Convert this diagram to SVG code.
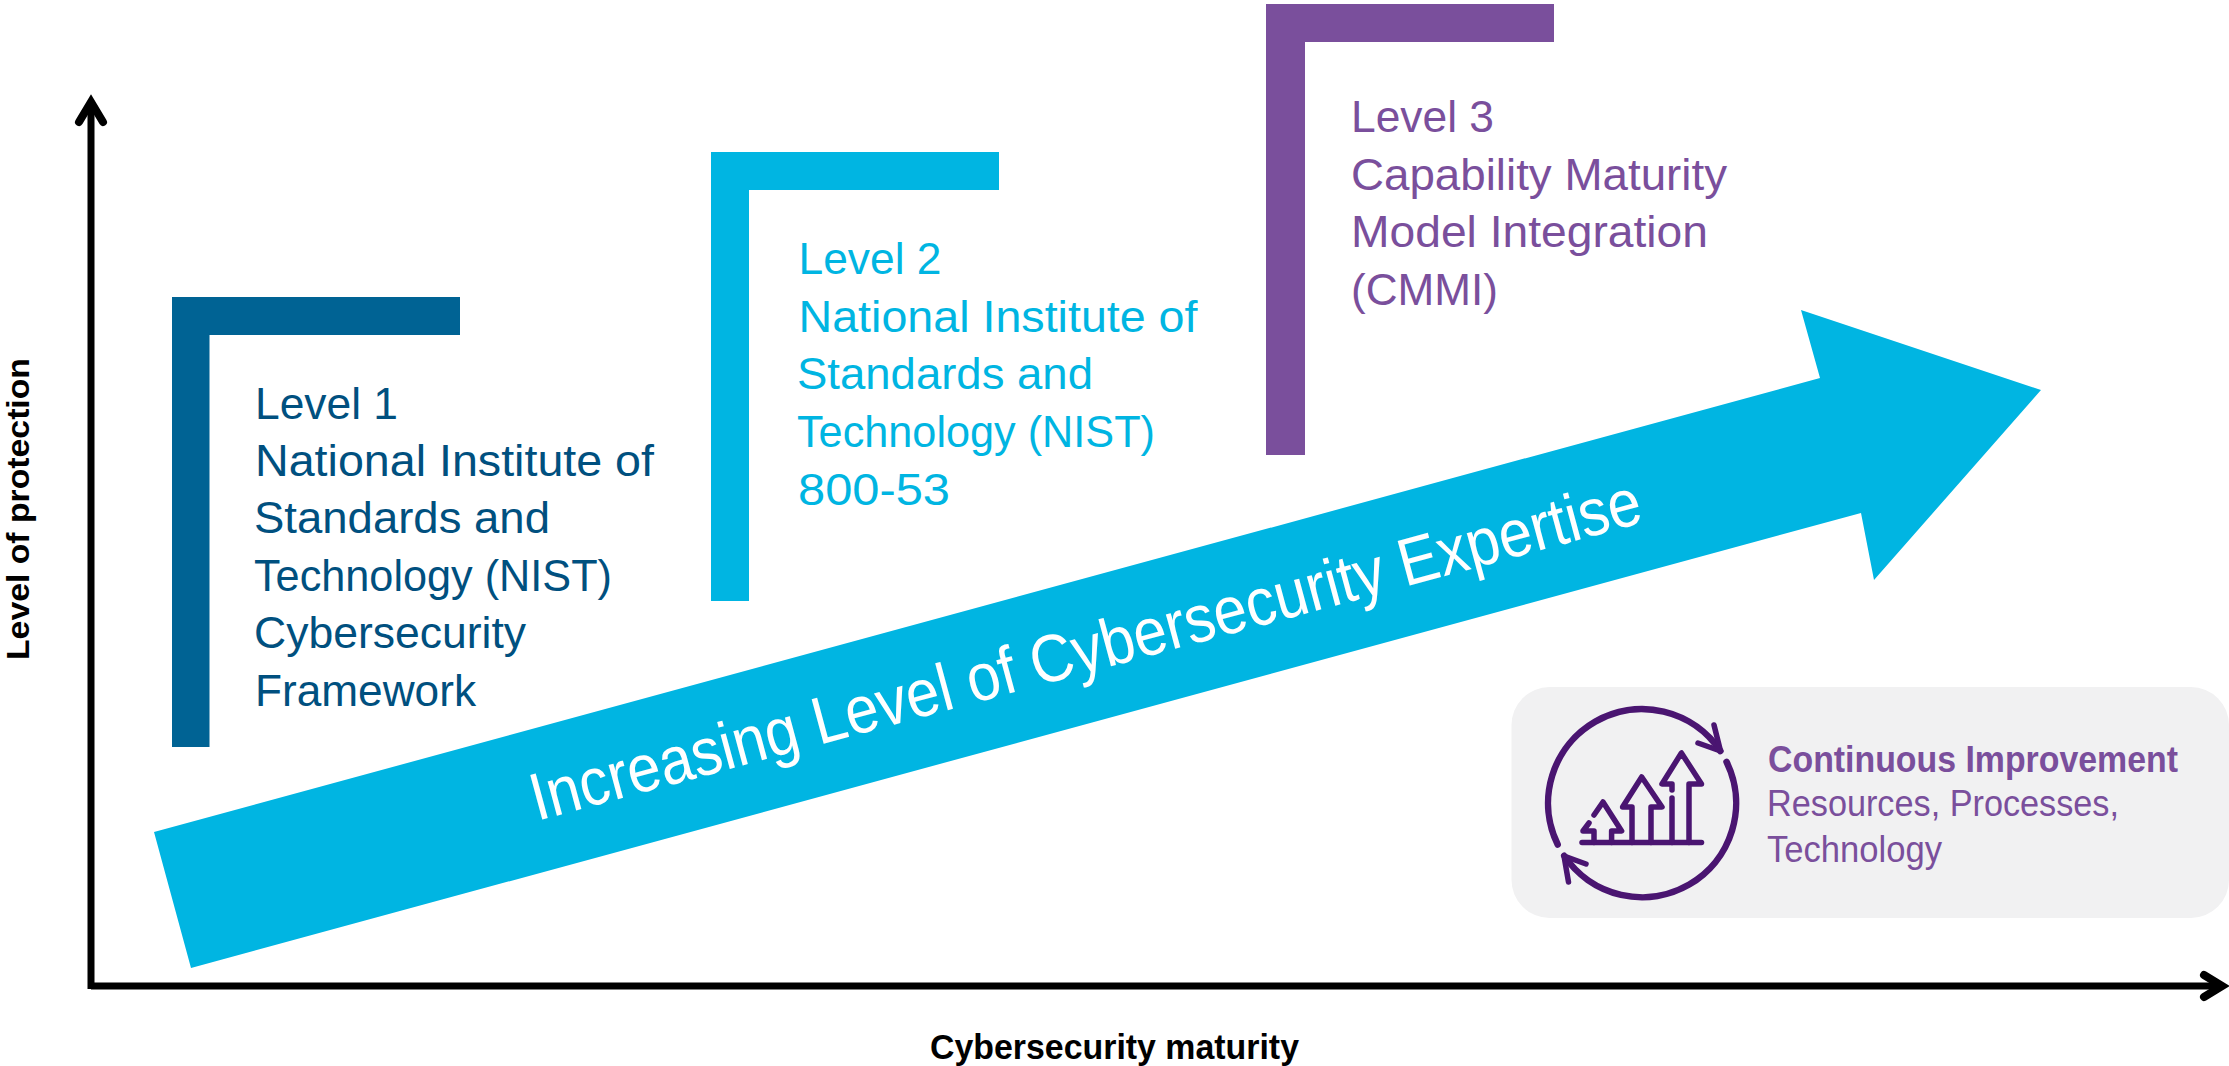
<svg xmlns="http://www.w3.org/2000/svg" width="2229" height="1066" viewBox="0 0 2229 1066">
<style>
text{font-family:"Liberation Sans",Arial,sans-serif}
.t{font-size:45px}
.l1{fill:#00507F}.l2{fill:#00B5E2}.l3{fill:#7A4F9C}
.axl{font-size:35px;font-weight:700;fill:#000}
.ax{fill:none;stroke:#000;stroke-width:7}
.ah{fill:none;stroke:#000;stroke-width:8;stroke-linecap:round;stroke-linejoin:miter}
.ic{fill:none;stroke:#4A1571;stroke-width:5.500;stroke-linecap:round;stroke-linejoin:round}
.ring{stroke-width:6.500}
</style>
<rect width="2229" height="1066" fill="#fff"/>
<g id="connectors">
<path class="ax" d="M91 989V104"/>
<path class="ax" d="M91 986H2222"/>
<path class="ah" d="M79 122L91 102L103 122"/>
<path class="ah" d="M2204 975L2222 986L2204 997"/>
</g>
<g id="axis-labels">
<text class="axl" style="font-size:31px" transform="translate(28.500 660) rotate(-90)" textLength="302" lengthAdjust="spacingAndGlyphs">Level of protection</text>
<text class="axl" x="930" y="1059" textLength="369" lengthAdjust="spacingAndGlyphs">Cybersecurity maturity</text>
</g>
<g id="main-arrow">
<polygon points="154,832 191,968 1861,513 1874,580 2041,390 1801,310 1820,378" fill="#00B5E2"/>
<text transform="translate(537 821) rotate(-15.100)" font-size="67" fill="#fff" textLength="1148" lengthAdjust="spacingAndGlyphs">Increasing Level of Cybersecurity Expertise</text>
</g>
<g id="level-1">
<path d="M172 297H460V335H209.500V747H172Z" fill="#006394"/>
<text class="t l1" x="255" y="419" textLength="143" lengthAdjust="spacingAndGlyphs">Level 1</text>
<text class="t l1" x="255" y="476" textLength="399" lengthAdjust="spacingAndGlyphs">National Institute of</text>
<text class="t l1" x="254" y="533" textLength="296" lengthAdjust="spacingAndGlyphs">Standards and</text>
<text class="t l1" x="254" y="591" textLength="358" lengthAdjust="spacingAndGlyphs">Technology (NIST)</text>
<text class="t l1" x="254" y="648" textLength="272" lengthAdjust="spacingAndGlyphs">Cybersecurity</text>
<text class="t l1" x="255" y="706" textLength="221" lengthAdjust="spacingAndGlyphs">Framework</text>
</g>
<g id="level-2">
<path d="M711 152H999V190H749V601H711Z" fill="#00B5E2"/>
<text class="t l2" x="798.500" y="274" textLength="143" lengthAdjust="spacingAndGlyphs">Level 2</text>
<text class="t l2" x="798.500" y="332" textLength="399" lengthAdjust="spacingAndGlyphs">National Institute of</text>
<text class="t l2" x="797" y="389" textLength="296" lengthAdjust="spacingAndGlyphs">Standards and</text>
<text class="t l2" x="797" y="447" textLength="358" lengthAdjust="spacingAndGlyphs">Technology (NIST)</text>
<text class="t l2" x="798" y="504.500" textLength="152" lengthAdjust="spacingAndGlyphs">800-53</text>
</g>
<g id="level-3">
<path d="M1266 4H1554V42H1305V455H1266Z" fill="#7A4F9C"/>
<text class="t l3" x="1351" y="132" textLength="143" lengthAdjust="spacingAndGlyphs">Level 3</text>
<text class="t l3" x="1351" y="189.500" textLength="376" lengthAdjust="spacingAndGlyphs">Capability Maturity</text>
<text class="t l3" x="1351" y="247" textLength="357" lengthAdjust="spacingAndGlyphs">Model Integration</text>
<text class="t l3" x="1351" y="304.500" textLength="147" lengthAdjust="spacingAndGlyphs">(CMMI)</text>
</g>
<g id="continuous-improvement">
<rect x="1511.500" y="687" width="717.500" height="231" rx="38" fill="#F1F1F2"/>
<g id="icon">
<path class="ic ring" d="M1557.700 844.500A94 94 0 0 1 1720.400 751.100"/>
<path class="ic ring" d="M1726.500 761.800A94 94 0 0 1 1564.200 855.800"/>
<path class="ic" d="M1714 725L1720.500 751L1698 743"/>
<path class="ic" d="M1586 864L1564 856L1568.500 882"/>
<path class="ic" d="M1582 842.500H1701.500"/>
<path class="ic" d="M1689 842.500V784H1701.500L1681.400 753L1662 784H1672V790"/>
<path class="ic" d="M1672 842.500V798"/>
<path class="ic" d="M1632 842.500V807H1622.600L1641.700 777L1662 807H1651V842.500"/>
<path class="ic" d="M1594 815L1603 802L1621.600 831H1611.600V842.500"/>
<path class="ic" d="M1594 842.500V831H1583L1589 823"/>
</g>
<text x="1768" y="771.500" font-size="37" font-weight="700" fill="#7A4F9C" textLength="410" lengthAdjust="spacingAndGlyphs">Continuous Improvement</text>
<text x="1767" y="816" font-size="36" fill="#7A4F9C" textLength="352" lengthAdjust="spacingAndGlyphs">Resources, Processes,</text>
<text x="1767" y="862" font-size="36" fill="#7A4F9C" textLength="175" lengthAdjust="spacingAndGlyphs">Technology</text>
</g>
</svg>
